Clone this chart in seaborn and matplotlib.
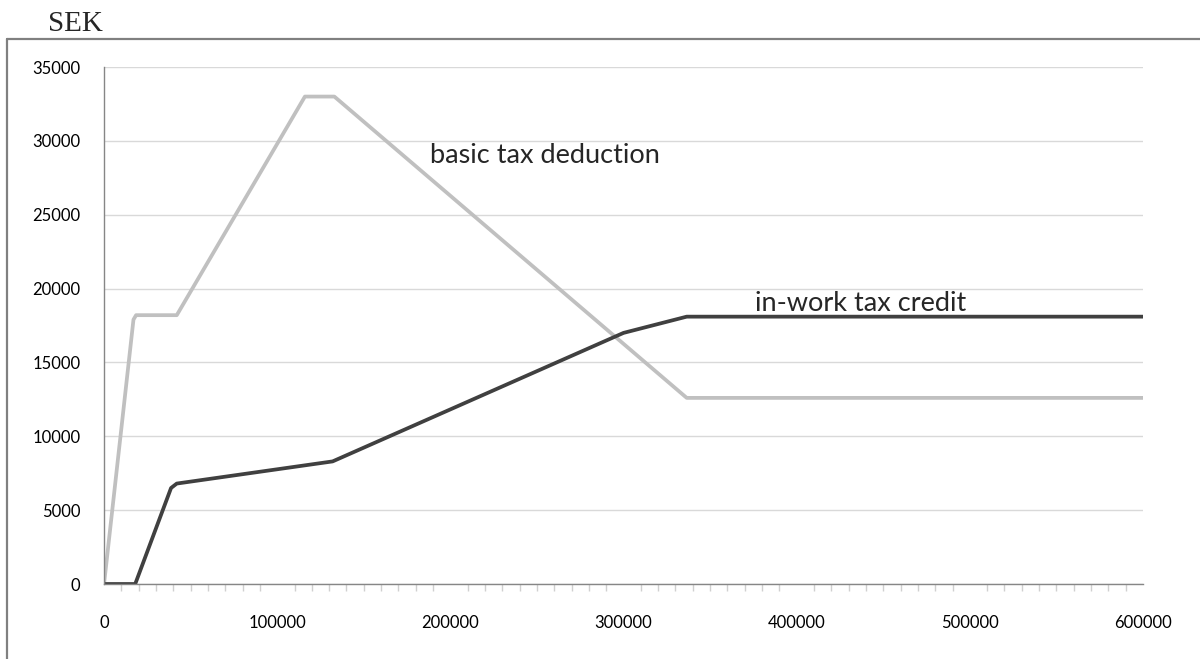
import pandas as pd
import matplotlib.pyplot as plt
import seaborn as sns
from matplotlib.ticker import MultipleLocator
from matplotlib.lines import Line2D

# income (SEK) and the two tax reductions
basic_income = [0, 17000, 18500, 42000, 116000, 133000, 336500, 600000]
basic_value = [0, 17900, 18200, 18200, 33000, 33000, 12600, 12600]

credit_income = [0, 18000, 38700, 42000, 132000, 300000, 336500, 600000]
credit_value = [0, 0, 6500, 6800, 8300, 17000, 18100, 18100]

basic = pd.DataFrame({"income": basic_income, "sek": basic_value})
credit = pd.DataFrame({"income": credit_income, "sek": credit_value})

sns.set_style("white")
plt.rcParams['font.family'] = ['Lato', 'DejaVu Sans']

fig = plt.figure(figsize=(12, 6.59), dpi=100)
ax = fig.add_axes([0.0867, 0.1138, 0.8658, 0.7845])

sns.lineplot(data=basic, x="income", y="sek", ax=ax, color="#c0c0c0",
             linewidth=2.7, sort=False)
sns.lineplot(data=credit, x="income", y="sek", ax=ax, color="#404040",
             linewidth=2.7, sort=False)

ax.set_xlim(0, 600000)
ax.set_ylim(0, 35000)
ax.xaxis.set_major_locator(MultipleLocator(100000))
ax.xaxis.set_minor_locator(MultipleLocator(10000))
ax.yaxis.set_major_locator(MultipleLocator(5000))
ax.grid(axis="y", color="#d9d9d9", linewidth=1)
ax.set_axisbelow(True)
ax.set_xlabel("")
ax.set_ylabel("")

for side in ["top", "right"]:
    ax.spines[side].set_visible(False)
for side in ["left", "bottom"]:
    ax.spines[side].set_color("#868686")
    ax.spines[side].set_linewidth(1)

ax.tick_params(axis="x", which="both", direction="out", length=5,
               color="#d0d0d0", width=1, labelsize=12, labelcolor="black", pad=17)
ax.tick_params(axis="y", which="major", direction="out", length=4,
               color="#868686", width=1, labelsize=12, labelcolor="black", pad=13)
ax.tick_params(axis="x", which="minor", bottom=True)

fig.text(430 / 1200, 1 - 163 / 659, "basic tax deduction", fontsize=19.5,
         va="baseline")
fig.text(755 / 1200, 1 - 311 / 659, "in-work tax credit", fontsize=19.5,
         va="baseline")

# frame around the chart and the unit label above it
fig.text(48 / 1200, 1 - 31 / 659, "SEK", family="Liberation Serif",
         fontsize=21, va="baseline")
fig.add_artist(Line2D([7 / 1200, 7 / 1200], [1 - 39 / 659, 0], color="#808080",
                      linewidth=1.6, transform=fig.transFigure))
fig.add_artist(Line2D([7 / 1200, 1], [1 - 39 / 659, 1 - 39 / 659], color="#808080",
                      linewidth=1.6, transform=fig.transFigure))

fig.savefig("out.png", dpi=100)
